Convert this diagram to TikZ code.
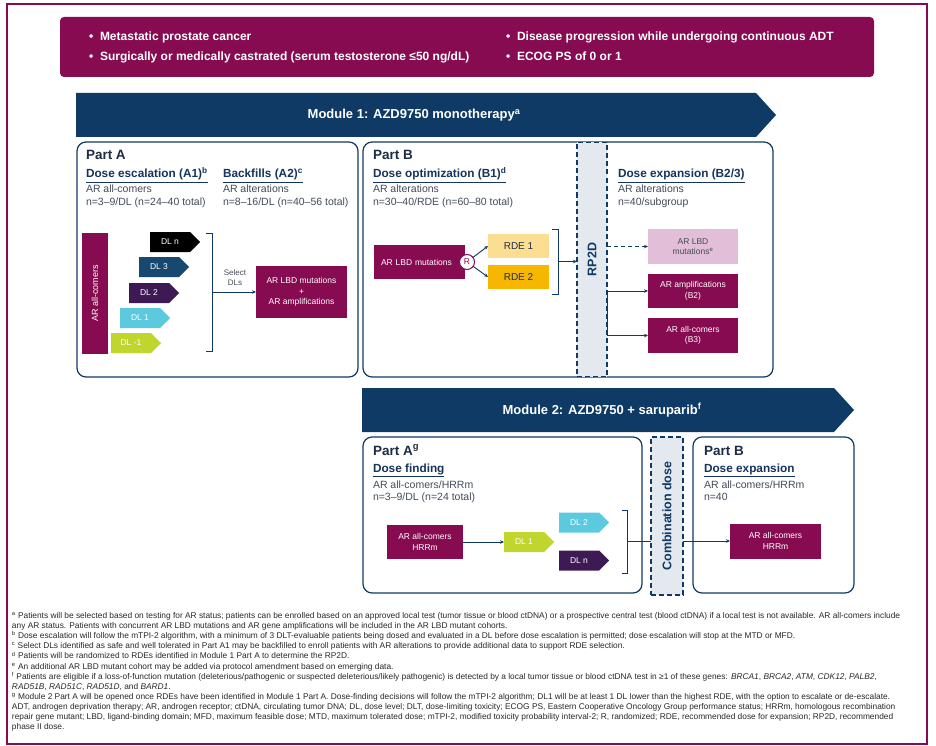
\documentclass[tikz,border=0pt]{standalone}
\usepackage{fontspec}
\setmainfont{Liberation Sans}
\usetikzlibrary{shapes.symbols,arrows.meta}
\definecolor{cMaroon}{RGB}{134,11,80}
\definecolor{cNavy}{RGB}{14,58,101}
\definecolor{cGray}{RGB}{66,76,90}
\definecolor{cDark}{RGB}{30,45,70}
\definecolor{cHead}{RGB}{22,52,92}
\definecolor{cDLthree}{RGB}{22,72,112}
\definecolor{cDLtwo}{RGB}{62,26,84}
\definecolor{cDLone}{RGB}{92,201,222}
\definecolor{cDLm}{RGB}{192,214,46}
\definecolor{cRDEa}{RGB}{252,222,146}
\definecolor{cRDEb}{RGB}{247,183,0}
\definecolor{cPink}{RGB}{226,190,216}
\definecolor{cCol}{RGB}{228,233,239}
\definecolor{cFoot}{RGB}{40,40,40}
\begin{document}
\begin{tikzpicture}[x=1pt,y=-1pt,
  every node/.style={inner sep=0pt,outer sep=0pt},
  bantxt/.style={anchor=base west,text=white,font=\fontsize{12}{14}\selectfont\bfseries},
  modtxt/.style={text=white,font=\fontsize{13}{15}\selectfont\bfseries},
  parttxt/.style={anchor=base west,text=cDark,font=\fontsize{13.5}{15}\selectfont\bfseries},
  headtxt/.style={anchor=base west,text=cHead,font=\fontsize{11.8}{14}\selectfont\bfseries},
  bodytxt/.style={anchor=base west,text=cGray,font=\fontsize{10.5}{12}\selectfont},
  partbox/.style={draw=cNavy,line width=1.2pt,rounded corners=9pt},
  colbox/.style={draw=cNavy,fill=cCol,line width=1.1pt,dash pattern=on 5pt off 3pt},
  coltxt/.style={rotate=90,text=cNavy,font=\fontsize{12.5}{14}\selectfont\bfseries},
  mbox/.style={fill=cMaroon,text=white,align=center,font=\fontsize{8.5}{10.5}\selectfont},
  dlbox/.style={shape=signal,signal to=east,signal pointer angle=90,minimum width=50pt,minimum height=20pt,anchor=west,text=white,font=\fontsize{8.5}{10}\selectfont},
  rdebox/.style={text=cDark,font=\fontsize{10}{12}\selectfont,minimum width=61pt,minimum height=24pt},
  conn/.style={draw=cNavy,line width=0.9pt},
  arr/.style={conn,-{Stealth[length=4pt,width=3.5pt]}},
  foot/.style={anchor=base west,text=cFoot,font=\fontsize{8.35}{9}\selectfont}
]
\useasboundingbox (0,0) rectangle (936,746);
\fill[white] (0,0) rectangle (936,746);
\draw[cMaroon,line width=1.2pt] (7,4) rectangle (927,744);

% top banner
\fill[cMaroon,rounded corners=4pt] (60,17) rectangle (874,77);
\node[bantxt] (b1d) at (89,41) {•};
\node[bantxt] (b1) at (100,41) {Metastatic prostate cancer};
\node[bantxt] (b2d) at (89,61) {•};
\node[bantxt] (b2) at (100,61) {Surgically or medically castrated (serum testosterone ≤50 ng/dL)};
\node[bantxt] (b3d) at (506,41) {•};
\node[bantxt] (b3) at (517,41) {Disease progression while undergoing continuous ADT};
\node[bantxt] (b4d) at (506,61) {•};
\node[bantxt] (b4) at (517,61) {ECOG PS of 0 or 1};

% module 1 arrow
\fill[cNavy] (76,93) -- (756,93) -- (776,115) -- (756,137) -- (76,137) -- cycle;
\node[modtxt] (m1t) at (414,115) {Module 1: AZD9750 monotherapy\textsuperscript{a}};

% Part A box (module 1)
\draw[partbox] (77,142) rectangle (358,377);
\node[parttxt] (pA) at (86,160) {Part A};
\node[headtxt] (hA1) at (86,178) {\underline{Dose escalation (A1)\textsuperscript{b}}};
\node[headtxt] (hA2) at (223,178) {\underline{Backfills (A2)\textsuperscript{c}}};
\node[bodytxt] (tA1) at (86,193) {AR all-comers};
\node[bodytxt] (tA2) at (86,205.5) {n=3–9/DL (n=24–40 total)};
\node[bodytxt] (tA3) at (223,193) {AR alterations};
\node[bodytxt] (tA4) at (223,205.5) {n=8–16/DL (n=40–56 total)};

\node[fill=cMaroon,minimum width=26pt,minimum height=121pt] (bar) at (95,293.5) {};
\node[rotate=90,text=white,font=\fontsize{9}{10}\selectfont] (barT) at (bar.center) {AR all-comers};

\node[dlbox,fill=black] (dln) at (150,242) {DL n};
\node[dlbox,fill=cDLthree] (dl3) at (139,267) {DL 3};
\node[dlbox,fill=cDLtwo] (dl2) at (129,293) {DL 2};
\node[dlbox,fill=cDLone] (dl1) at (120,318) {DL 1};
\node[dlbox,fill=cDLm] (dlm) at (111,343) {DL -1};

\coordinate (brA) at (212,292);
\draw[conn] (206,233) -- (212,233) -- (212,351) -- (206,351);
\node[mbox,minimum width=91pt,minimum height=52pt] (lbdamp) at (301.5,292) {AR LBD mutations\\+\\AR amplifications};
\draw[arr] (brA) -- (lbdamp.west);
\node[text=cGray,align=center,font=\fontsize{8}{10}\selectfont] (sel) at (235,278) {Select\\DLs};

% Part B box (module 1)
\draw[partbox] (363,142) rectangle (773,377);
\node[parttxt] (pB) at (373,160) {Part B};
\node[headtxt] (hB1) at (373,178) {\underline{Dose optimization (B1)\textsuperscript{d}}};
\node[bodytxt] (tB1) at (373,193) {AR alterations};
\node[bodytxt] (tB2) at (373,205.5) {n=30–40/RDE (n=60–80 total)};
\node[headtxt] (hB2) at (618,178) {\underline{Dose expansion (B2/3)}};
\node[bodytxt] (tB3) at (618,193) {AR alterations};
\node[bodytxt] (tB4) at (618,205.5) {n=40/subgroup};

\node[mbox,minimum width=91pt,minimum height=34pt,text width=85pt,align=left] (lbd) at (419.5,262) {\hspace*{4pt}AR LBD mutations};
\node[circle,draw=cMaroon,fill=white,line width=1pt,minimum size=15pt,text=cMaroon,font=\fontsize{8.5}{10}\selectfont] (R) at (467,262) {R};
\node[rdebox,fill=cRDEa] (rde1) at (518.5,246) {RDE 1};
\node[rdebox,fill=cRDEb] (rde2) at (518.5,277) {RDE 2};
\draw[arr] (R) -- (rde1.west);
\draw[arr] (R) -- (rde2.west);
\coordinate (brB) at (558,261.5);
\draw[conn] (552,229) -- (558,229) -- (558,294) -- (552,294);

\node[colbox,minimum width=30pt,minimum height=234pt] (rp2d) at (592,259.5) {};
\node[coltxt] (rp2dT) at (rp2d.center) {RP2D};
\draw[arr] (brB) -- (brB -| rp2d.west);

\node[fill=cPink,text=cGray,align=center,font=\fontsize{8.5}{10.5}\selectfont,minimum width=90pt,minimum height=35pt] (pink) at (693,246.5) {AR LBD\\mutations\textsuperscript{e}};
\node[mbox,minimum width=90pt,minimum height=34pt] (b2box) at (693,291) {AR amplifications\\(B2)};
\node[mbox,minimum width=90pt,minimum height=35pt] (b3box) at (693,335.5) {AR all-comers\\(B3)};
\draw[arr,dash pattern=on 4pt off 3pt] (rp2d.east |- pink.west) -- (pink.west);
\draw[arr] (rp2d.east |- b2box.west) -- (b2box.west);
\draw[arr] (rp2d.east |- b2box.west) -- (rp2d.east |- b3box.west) -- (b3box.west);

% module 2 arrow
\fill[cNavy] (362,388) -- (834,388) -- (854,410) -- (834,432) -- (362,432) -- cycle;
\node[modtxt] (m2t) at (602,410) {Module 2: AZD9750 + saruparib\textsuperscript{f}};

% Module 2 Part A
\draw[partbox] (363,437) rectangle (642,593);
\node[parttxt] (pA2) at (373,455) {Part A\textsuperscript{g}};
\node[headtxt] (hA3) at (373,472) {\underline{Dose finding}};
\node[bodytxt] (tC1) at (373,488) {AR all-comers/HRRm};
\node[bodytxt] (tC2) at (373,500.5) {n=3–9/DL (n=24 total)};
\node[mbox,minimum width=76pt,minimum height=34pt] (m2lbd) at (425,542) {AR all-comers\\HRRm};
\node[dlbox,fill=cDLm] (m2dl1) at (504,542) {DL 1};
\node[dlbox,fill=cDLone] (m2dl2) at (559,522.5) {DL 2};
\node[dlbox,fill=cDLtwo] (m2dln) at (559,560.5) {DL n};
\draw[arr] (m2lbd.east) -- (m2dl1.west);
\coordinate (brC) at (627,541);
\draw[conn] (622,510) -- (627,510) -- (627,573) -- (622,573);

\node[colbox,minimum width=32pt,minimum height=158pt] (combo) at (667,516) {};
\node[coltxt] (comboT) at (combo.center) {Combination dose};
\draw[conn] (brC) -- (brC -| combo.west);

% Module 2 Part B
\draw[partbox] (693,437) rectangle (854,593);
\node[parttxt] (pB2) at (704,455) {Part B};
\node[headtxt] (hB3) at (704,472) {\underline{Dose expansion}};
\node[bodytxt] (tD1) at (704,488) {AR all-comers/HRRm};
\node[bodytxt] (tD2) at (704,500.5) {n=40};
\node[mbox,minimum width=91pt,minimum height=35pt] (m2b) at (775.5,541) {AR all-comers\\HRRm};
\draw[arr] (combo.east |- m2b.west) -- (m2b.west);

% footnotes
\node[foot] (f1) at (12,618.5) {\textsuperscript{a} Patients will be selected based on testing for AR status; patients can be enrolled based on an approved local test (tumor tissue or blood ctDNA) or a prospective central test (blood ctDNA) if a local test is not available. AR all-comers include};
\node[foot] (f2) at (12,628.6) {any AR status. Patients with concurrent AR LBD mutations and AR gene amplifications will be included in the AR LBD mutant cohorts.};
\node[foot] (f3) at (12,638.7) {\textsuperscript{b} Dose escalation will follow the mTPI-2 algorithm, with a minimum of 3 DLT-evaluable patients being dosed and evaluated in a DL before dose escalation is permitted; dose escalation will stop at the MTD or MFD.};
\node[foot] (f4) at (12,648.8) {\textsuperscript{c} Select DLs identified as safe and well tolerated in Part A1 may be backfilled to enroll patients with AR alterations to provide additional data to support RDE selection.};
\node[foot] (f5) at (12,658.9) {\textsuperscript{d} Patients will be randomized to RDEs identified in Module 1 Part A to determine the RP2D.};
\node[foot] (f6) at (12,669.0) {\textsuperscript{e} An additional AR LBD mutant cohort may be added via protocol amendment based on emerging data.};
\node[foot] (f7) at (12,679.1) {\textsuperscript{f} Patients are eligible if a loss-of-function mutation (deleterious/pathogenic or suspected deleterious/likely pathogenic) is detected by a local tumor tissue or blood ctDNA test in ≥1 of these genes: \textit{BRCA1}, \textit{BRCA2}, \textit{ATM}, \textit{CDK12}, \textit{PALB2},};
\node[foot] (f8) at (12,689.2) {\textit{RAD51B}, \textit{RAD51C}, \textit{RAD51D}, and \textit{BARD1}.};
\node[foot] (f9) at (12,699.3) {\textsuperscript{g} Module 2 Part A will be opened once RDEs have been identified in Module 1 Part A. Dose-finding decisions will follow the mTPI-2 algorithm; DL1 will be at least 1 DL lower than the highest RDE, with the option to escalate or de-escalate.};
\node[foot] (f10) at (12,709.4) {ADT, androgen deprivation therapy; AR, androgen receptor; ctDNA, circulating tumor DNA; DL, dose level; DLT, dose-limiting toxicity; ECOG PS, Eastern Cooperative Oncology Group performance status; HRRm, homologous recombination};
\node[foot] (f11) at (12,719.5) {repair gene mutant; LBD, ligand-binding domain; MFD, maximum feasible dose; MTD, maximum tolerated dose; mTPI-2, modified toxicity probability interval-2; R, randomized; RDE, recommended dose for expansion; RP2D, recommended};
\node[foot] (f12) at (12,729.6) {phase II dose.};
\end{tikzpicture}
\end{document}
